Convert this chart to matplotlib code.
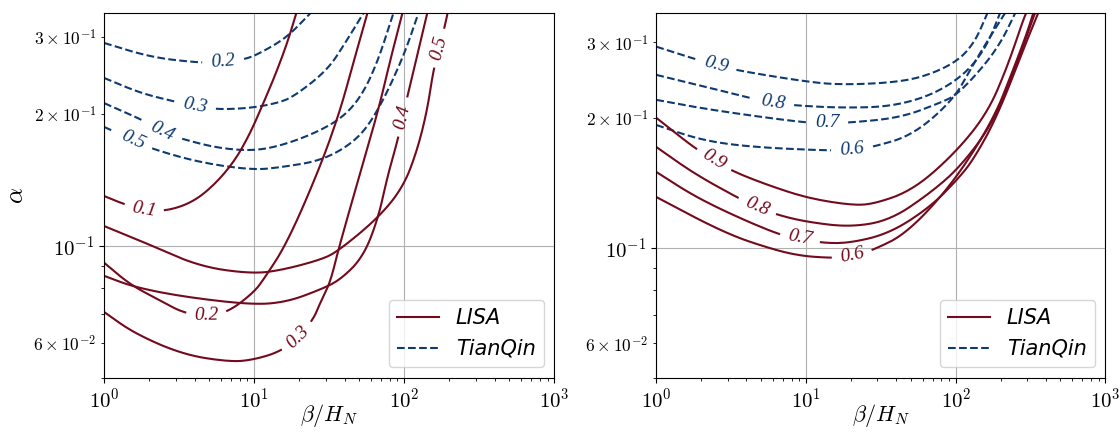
import numpy as np
import matplotlib.pyplot as plt

plt.rcParams["font.family"] = "serif"
plt.rcParams["font.serif"] = ["cmr10"]
plt.rcParams["mathtext.fontset"] = "cm"
plt.rcParams["axes.formatter.use_mathtext"] = True

RED = "#730a1d"
BLUE = "#0e3a72"

# ---- left panel: LISA (solid) ----
lisa_l_levels = [0.1, 0.2, 0.3, 0.4, 0.5]
lisa_l_x = [
    [1.0, 1.34, 1.88, 2.63, 3.92, 5.50, 7.47, 9.4, 11.3, 13.8, 16.6, 19.05],
    [1.0, 1.49, 2.4, 3.36, 4.8, 6.71, 9.85, 11.5, 16.6, 27.5, 37.4, 45.7, 56.7],
    [1.0, 1.56, 3.36, 6.92, 9.85, 14.9, 19.4, 24.7, 27.5, 32.1, 36.3, 48.6, 67.1, 80.6, 97],
    [1.0, 1.56, 3.36, 9.85, 16.6, 27.5, 37.4, 53.3, 67.1, 77.0, 91.2, 97, 104.7, 122, 142],
    [1.0, 2.03, 4.37, 9.85, 15.6, 27.5, 35.7, 67.1, 98.5, 122, 142, 156, 171, 188, 194],
]
lisa_l_y = [
    [0.130, 0.1247, 0.1208, 0.1202, 0.126, 0.1385, 0.157, 0.181, 0.209, 0.2457, 0.291, 0.34],
    [0.0915, 0.0815, 0.0748, 0.0703, 0.0692, 0.0706, 0.0781, 0.0836, 0.1016, 0.1515, 0.204, 0.262, 0.34],
    [0.0706, 0.0633, 0.0564, 0.0543, 0.0549, 0.0573, 0.0617, 0.0678, 0.0741, 0.0825, 0.0979, 0.1393, 0.204, 0.266, 0.34],
    [0.0854, 0.0806, 0.0765, 0.0733, 0.0745, 0.0794, 0.0836, 0.0944, 0.1159, 0.1437, 0.1765, 0.197, 0.219, 0.273, 0.34],
    [0.111, 0.1005, 0.0896, 0.0863, 0.0882, 0.0929, 0.0969, 0.1159, 0.1364, 0.1656, 0.204, 0.252, 0.283, 0.323, 0.34],
]
lisa_l_lab = [(1.85, 0.122), (4.79, 0.0696), (19.3, 0.062), (97, 0.197), (166, 0.284)]

# ---- left panel: TianQin (dashed) ----
tq_l_levels = [0.2, 0.3, 0.4, 0.5]
tq_l_x = [
    [1.0, 2.03, 4.37, 6.21, 8.71, 11.0, 16.6, 23.6],
    [1.0, 1.74, 3.07, 4.04, 5.67, 9.4, 14.2, 18.2, 30.7, 40.4, 53.3],
    [1.0, 1.93, 2.44, 3.31, 5.67, 9.85, 15.6, 26.3, 39.2, 52.5, 67.1, 84.5],
    [1.0, 1.56, 2.09, 4.37, 9.85, 15.6, 28.8, 48.6, 67.1, 98.5, 124],
]
tq_l_y = [
    [0.291, 0.270, 0.262, 0.263, 0.267, 0.276, 0.300, 0.34],
    [0.242, 0.2235, 0.213, 0.209, 0.205, 0.2065, 0.212, 0.219, 0.252, 0.291, 0.34],
    [0.212, 0.192, 0.182, 0.1755, 0.1674, 0.1648, 0.170, 0.182, 0.197, 0.2213, 0.266, 0.34],
    [0.187, 0.1746, 0.1665, 0.155, 0.149, 0.1515, 0.157, 0.1746, 0.204, 0.270, 0.34],
]
tq_l_lab = [(6.21, 0.263), (4.04, 0.210), (2.44, 0.182), (1.54, 0.1738)]

# ---- right panel: LISA (solid) ----
lisa_r_levels = [0.9, 0.8, 0.7, 0.6]
lisa_r_x = [
    [1.0, 1.76, 2.43, 3.21, 5.50, 10.2, 19.7, 28.1, 52.0, 99.1, 163, 221, 283, 296],
    [1.0, 1.76, 3.52, 4.71, 6.51, 10.2, 19.7, 36.5, 67.5, 107, 178, 258, 325, 340],
    [1.0, 1.96, 6.51, 9.13, 12.8, 19.7, 36.5, 67.5, 102, 131, 189, 300, 356],
    [1.0, 1.96, 2.97, 4.23, 8.20, 14.9, 20.3, 28.1, 47.4, 96.2, 178, 242, 300, 330],
]
lisa_r_y = [
    [0.2003, 0.1714, 0.160, 0.1507, 0.140, 0.1305, 0.1257, 0.1262, 0.1362, 0.166, 0.2056, 0.263, 0.339, 0.351],
    [0.1714, 0.1492, 0.1305, 0.1244, 0.1191, 0.1148, 0.1117, 0.1159, 0.134, 0.154, 0.195, 0.269, 0.339, 0.351],
    [0.150, 0.1291, 0.1071, 0.1054, 0.1026, 0.1026, 0.1082, 0.1244, 0.1437, 0.160, 0.2014, 0.304, 0.351],
    [0.1312, 0.1159, 0.1082, 0.1031, 0.0962, 0.0946, 0.0957, 0.0988, 0.1082, 0.1414, 0.198, 0.259, 0.316, 0.351],
]
lisa_r_lab = [(2.43, 0.160), (4.71, 0.1244), (9.13, 0.1054), (20.3, 0.0957)]

# ---- right panel: TianQin (dashed) ----
tq_r_levels = [0.9, 0.8, 0.7, 0.6]
tq_r_x = [
    [1.0, 1.76, 2.51, 3.46, 10.0, 16.9, 36.5, 60.7, 102, 135, 163],
    [1.0, 2.29, 4.36, 6.03, 8.45, 16.9, 36.5, 70.6, 119, 163, 198],
    [1.0, 2.29, 9.86, 13.8, 18.8, 42.5, 78.7, 102, 157, 205, 250],
    [1.0, 1.96, 4.23, 14.5, 20.3, 28.1, 52.0, 96.2, 125, 157, 214],
]
tq_r_y = [
    [0.293, 0.275, 0.266, 0.258, 0.243, 0.239, 0.2415, 0.249, 0.270, 0.301, 0.351],
    [0.252, 0.235, 0.222, 0.217, 0.214, 0.2113, 0.2125, 0.2265, 0.255, 0.296, 0.351],
    [0.2205, 0.209, 0.195, 0.195, 0.195, 0.2003, 0.217, 0.2265, 0.266, 0.304, 0.351],
    [0.1928, 0.178, 0.1714, 0.168, 0.169, 0.1714, 0.1828, 0.2205, 0.259, 0.296, 0.351],
]
tq_r_lab = [(2.51, 0.267), (6.03, 0.217), (13.8, 0.195), (20.3, 0.169)]


def chaikin(p, n=3):
    # corner cutting to smooth the hand-read polyline
    for _ in range(n):
        q = 0.75 * p[:-1] + 0.25 * p[1:]
        r = 0.25 * p[:-1] + 0.75 * p[1:]
        mid = np.empty((2 * len(q), 2))
        mid[0::2] = q
        mid[1::2] = r
        p = np.vstack([p[:1], mid[1:-1], p[-1:]])
    return p


def contour_line(ax, xs, ys, lab, level, color, ls):
    p = chaikin(np.log10(np.column_stack([xs, ys])))
    d = ax.transData.transform(10 ** p)
    s = np.concatenate([[0], np.cumsum(np.hypot(*np.diff(d, axis=0).T))])
    sf = np.linspace(0, s[-1], 1200)
    d = np.column_stack([np.interp(sf, s, d[:, 0]), np.interp(sf, s, d[:, 1])])
    c = ax.transData.transform([lab])[0]
    k = np.argmin(np.hypot(*(d - c).T))
    xy = ax.transData.inverted().transform(d)
    xy[np.abs(sf - sf[k]) < 21] = np.nan
    ax.plot(xy[:, 0], xy[:, 1], color=color, ls=ls, lw=1.5)
    i0, i1 = max(k - 12, 0), min(k + 12, len(d) - 1)
    ang = np.degrees(np.arctan2(d[i1, 1] - d[i0, 1], d[i1, 0] - d[i0, 0]))
    ang = (ang + 90) % 180 - 90
    lx, ly = ax.transData.inverted().transform(d[k])
    ax.text(lx, ly, f"{level:.1f}", color=color, rotation=ang,
            rotation_mode="anchor", ha="center", va="center",
            fontsize=14, family="Liberation Serif", style="italic")


fig = plt.figure(figsize=(11.2, 4.32), dpi=100)
ax1 = fig.add_axes([0.093, 0.126, 0.402, 0.843])
ax2 = fig.add_axes([0.586, 0.126, 0.401, 0.843])

for ax, top in ((ax1, 0.34), (ax2, 0.35)):
    ax.set_xscale("log")
    ax.set_yscale("log")
    ax.set_xlim(1, 1000)
    ax.set_ylim(0.05, top)
    ax.grid(True)
    ax.tick_params(labelsize=15)
    ax.tick_params(axis="y", which="minor", labelsize=12.5)
    ax.set_xlabel(r"$\beta/H_N$", fontsize=16)
    ax.xaxis.set_label_coords(0.5, -0.068)
ax1.set_ylabel(r"$\alpha$", fontsize=18)

panels = [
    (ax1, lisa_l_x, lisa_l_y, lisa_l_lab, lisa_l_levels, tq_l_x, tq_l_y, tq_l_lab, tq_l_levels),
    (ax2, lisa_r_x, lisa_r_y, lisa_r_lab, lisa_r_levels, tq_r_x, tq_r_y, tq_r_lab, tq_r_levels),
]
for ax, lx, ly, llab, llev, tx, ty, tlab, tlev in panels:
    for xs, ys, lab, lev in zip(tx, ty, tlab, tlev):
        contour_line(ax, xs, ys, lab, lev, BLUE, "--")
    for xs, ys, lab, lev in zip(lx, ly, llab, llev):
        contour_line(ax, xs, ys, lab, lev, RED, "-")
    ax.plot([], [], color=RED, lw=1.5, label="LISA")
    ax.plot([], [], color=BLUE, lw=1.5, ls="--", label="TianQin")
    ax.legend(loc="lower right", prop={"family": "DejaVu Sans", "style": "italic", "size": 15})

fig.savefig("out.png", dpi=100)
